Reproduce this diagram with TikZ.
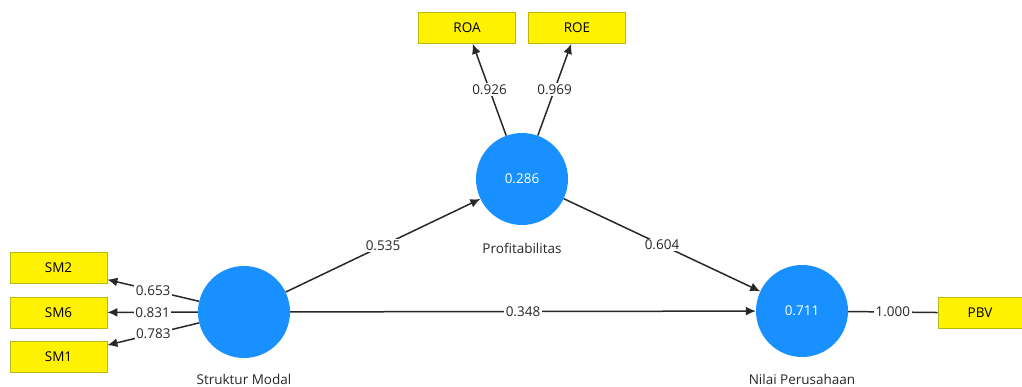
\documentclass[tikz,border=0pt]{standalone}
\usepackage{fontspec}
\setmainfont{Open Sans}
\usetikzlibrary{arrows.meta}
\definecolor{plsblau}{RGB}{24,144,255}
\definecolor{plsrand}{RGB}{185,185,20}
\definecolor{pfadgrau}{RGB}{40,40,40}

\begin{document}
\begin{tikzpicture}[x=1pt, y=-1pt,
	latent/.style={circle, fill=plsblau, minimum size=92pt, inner sep=0pt, text=white, font=\fontsize{13.5}{16}\selectfont},
	indikator/.style={rectangle, fill=yellow, draw=plsrand, line width=0.8pt, minimum width=97pt, minimum height=31pt, inner sep=0pt, font=\fontsize{13.5}{16}\selectfont},
	pfad/.style={line width=1.5pt, draw=pfadgrau, -{Latex[length=10pt,width=9pt]}},
	gewicht/.style={fill=white, inner sep=1.5pt, text=pfadgrau, font=\fontsize{13.5}{16}\selectfont},
	beschr/.style={text=pfadgrau, font=\fontsize{13.5}{16}\selectfont}]
	\useasboundingbox (0,0) rectangle (1022,387);
	%%Konstrukte
	\node[latent] (sm) at (244,312) {};
	\node[latent] (prof) at (522,179) {0.286};
	\node[latent] (nilai) at (802,311) {0.711};
	\node[beschr] (smtext) at (244,379) {Struktur Modal};
	\node[beschr] (proftext) at (522,248) {Profitabilitas};
	\node[beschr] (nilaitext) at (802,379) {Nilai Perusahaan};
	%%Indikatoren
	\node[indikator] (sm2) at (58.5,268) {SM2};
	\node[indikator] (sm6) at (58.5,312.5) {SM6};
	\node[indikator] (sm1) at (58.5,357) {SM1};
	\node[indikator] (roa) at (467,28) {ROA};
	\node[indikator] (roe) at (577,28) {ROE};
	\node[indikator, minimum width=84pt] (pbv) at (980,313) {PBV};
	%%Ladungen
	\draw[pfad] (sm) -- node[gewicht] (l1) {0.653} (sm2);
	\draw[pfad] (sm) -- node[gewicht] (l2) {0.831} (sm6);
	\draw[pfad] (sm) -- node[gewicht] (l3) {0.783} (sm1);
	\draw[pfad] (prof) -- node[gewicht] (l4) {0.926} (roa);
	\draw[pfad] (prof) -- node[gewicht] (l5) {0.969} (roe);
	\draw[pfad, -] (nilai) -- node[gewicht] (l6) {1.000} (pbv);
	%%Pfadkoeffizienten
	\draw[pfad] (sm) -- node[gewicht] (p1) {0.535} (prof);
	\draw[pfad] (sm) -- node[gewicht] (p2) {0.348} (nilai);
	\draw[pfad] (prof) -- node[gewicht] (p3) {0.604} (nilai);
\end{tikzpicture}
\end{document}
